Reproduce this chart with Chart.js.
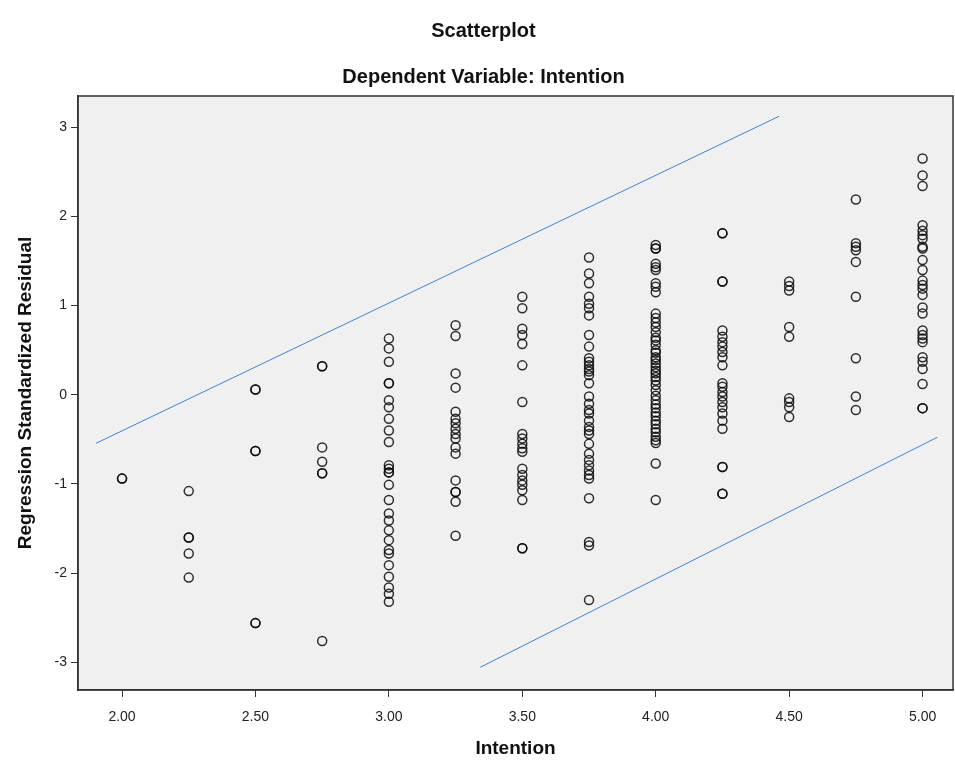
<!DOCTYPE html>
<html lang="en">
<head>
    <meta charset="UTF-8">
    <title>Scatterplot</title>
    <script src="https://cdn.jsdelivr.net/npm/chart.js"></script>
    <style>
        body {
            margin: 0;
            background-color: #ffffff;
        }
        .chart-container {
            width: 955px;
            height: 760px;
        }
    </style>
</head>
<body>
    <div class="chart-container">
        <canvas id="residChart"></canvas>
    </div>

    <script>
        // Intention levels (x) and the standardized residuals seen at each level
        const intentionLevels = [2.00, 2.25, 2.50, 2.75, 3.00, 3.25, 3.50, 3.75, 4.00, 4.25, 4.50, 4.75, 5.00];

        const res200 = [-0.94, -0.94];
        const res225 = [-1.08, -1.60, -1.60, -1.78, -2.05];
        const res250 = [0.06, 0.06, -0.63, -0.63, -2.56, -2.56];
        const res275 = [0.32, 0.32, -0.59, -0.75, -0.88, -0.88, -2.76];
        const res300 = [0.63, 0.52, 0.37, 0.13, 0.13, -0.06, -0.14, -0.27, -0.40, -0.53, -0.79, -0.83, -0.87, -0.87,
            -1.01, -1.18, -1.33, -1.41, -1.52, -1.63, -1.74, -1.78, -1.91, -2.04, -2.16, -2.23, -2.32];
        const res325 = [0.78, 0.66, 0.24, 0.08, -0.19, -0.27, -0.32, -0.38, -0.44, -0.49, -0.59, -0.66,
            -0.96, -1.09, -1.09, -1.20, -1.58];
        const res350 = [1.10, 0.97, 0.74, 0.67, 0.57, 0.33, -0.08, -0.44, -0.49, -0.55, -0.60, -0.64,
            -0.83, -0.90, -0.96, -1.01, -1.07, -1.18, -1.72, -1.72];
        const res375 = [1.54, 1.36, 1.25, 1.10, 1.02, 0.97, 0.89, 0.67, 0.54, 0.41, 0.37, 0.33, 0.29, 0.26, 0.22,
            0.13, -0.02, -0.10, -0.17, -0.21, -0.29, -0.36, -0.40, -0.44, -0.55, -0.66, -0.73, -0.79, -0.85,
            -0.90, -0.94, -1.16, -1.65, -1.69, -2.30];
        const res400 = [1.68, 1.64, 1.64, 1.47, 1.43, 1.40, 1.25, 1.21, 1.15, 0.91, 0.86, 0.81, 0.76, 0.70, 0.64,
            0.61, 0.56, 0.50, 0.47, 0.42, 0.39, 0.35, 0.31, 0.27, 0.24, 0.20, 0.16, 0.11, 0.05, -0.01, -0.06,
            -0.11, -0.15, -0.20, -0.24, -0.29, -0.33, -0.38, -0.42, -0.47, -0.51, -0.54, -0.77, -1.18];
        const res425 = [1.81, 1.81, 1.27, 1.27, 0.72, 0.65, 0.59, 0.54, 0.48, 0.42, 0.33, 0.13, 0.09, 0.03,
            -0.02, -0.08, -0.14, -0.21, -0.29, -0.38, -0.81, -0.81, -1.11, -1.11];
        const res450 = [1.27, 1.22, 1.17, 0.76, 0.65, -0.04, -0.08, -0.14, -0.25];
        const res475 = [2.19, 1.70, 1.66, 1.62, 1.49, 1.10, 0.41, -0.02, -0.17];
        const res500 = [2.65, 2.46, 2.34, 1.90, 1.84, 1.79, 1.75, 1.66, 1.64, 1.51, 1.40, 1.28, 1.23, 1.19, 1.12,
            0.98, 0.91, 0.72, 0.67, 0.63, 0.59, 0.42, 0.37, 0.29, 0.12, -0.15, -0.15];

        const residualsByLevel = [res200, res225, res250, res275, res300, res325, res350,
            res375, res400, res425, res450, res475, res500];

        // Two reference lines (end points in data units)
        const upperLineX = [1.9025, 4.4625];
        const upperLineY = [-0.544, 3.123];
        const lowerLineX = [3.342, 5.055];
        const lowerLineY = [-3.056, -0.477];

        // Tick labels
        const xTicks = [2.00, 2.50, 3.00, 3.50, 4.00, 4.50, 5.00];
        const yTicks = [-3, -2, -1, 0, 1, 2, 3];

        const points = [];
        intentionLevels.forEach((lvl, i) => {
            residualsByLevel[i].forEach(r => points.push({ x: lvl, y: r }));
        });

        // Grey plot background + full frame
        const plotFrame = {
            id: 'plotFrame',
            beforeDraw(chart) {
                const { ctx, chartArea: a } = chart;
                ctx.save();
                ctx.fillStyle = '#f0f0f0';
                ctx.fillRect(a.left, a.top, a.right - a.left, a.bottom - a.top);
                ctx.restore();
            },
            afterDraw(chart) {
                const { ctx, chartArea: a } = chart;
                ctx.save();
                ctx.strokeStyle = '#333333';
                ctx.lineWidth = 1.5;
                ctx.strokeRect(a.left, a.top, a.right - a.left, a.bottom - a.top);
                ctx.restore();
            }
        };

        const tickFont = { family: '"Liberation Sans Narrow", "Liberation Sans", Arial, sans-serif', size: 14 };
        const boldFont = { family: '"Liberation Sans", Arial, sans-serif', size: 20, weight: 'bold' };

        new Chart(document.getElementById('residChart').getContext('2d'), {
            type: 'scatter',
            data: {
                datasets: [
                    {
                        label: 'Residuals',
                        data: points,
                        pointStyle: 'circle',
                        pointRadius: 4.5,
                        pointBackgroundColor: 'rgba(0,0,0,0)',
                        pointBorderColor: 'rgba(10,10,10,0.85)',
                        pointBorderWidth: 1.5,
                        order: 1
                    },
                    {
                        label: 'Upper',
                        data: upperLineX.map((x, i) => ({ x: x, y: upperLineY[i] })),
                        showLine: true,
                        borderColor: '#3b86d6',
                        borderWidth: 1,
                        pointRadius: 0,
                        order: 0
                    },
                    {
                        label: 'Lower',
                        data: lowerLineX.map((x, i) => ({ x: x, y: lowerLineY[i] })),
                        showLine: true,
                        borderColor: '#3b86d6',
                        borderWidth: 1,
                        pointRadius: 0,
                        order: 0
                    }
                ]
            },
            options: {
                responsive: true,
                maintainAspectRatio: false,
                animation: false,
                layout: { autoPadding: false, padding: { left: 14, right: 2, top: 0, bottom: 0 } },
                plugins: {
                    legend: { display: false },
                    tooltip: { enabled: false },
                    title: {
                        display: true,
                        text: 'Scatterplot',
                        color: '#111111',
                        font: boldFont,
                        padding: { top: 19, bottom: 10 }
                    },
                    subtitle: {
                        display: true,
                        text: 'Dependent Variable: Intention',
                        color: '#111111',
                        font: boldFont,
                        padding: { top: 12, bottom: 7 }
                    }
                },
                scales: {
                    x: {
                        type: 'linear',
                        min: 1.835,
                        max: 5.114,
                        afterBuildTicks: scale => { scale.ticks = xTicks.map(v => ({ value: v })); },
                        afterFit: scale => {
                            scale.height = 70;
                            scale.paddingLeft = 0;
                            scale.paddingRight = 0;
                        },
                        ticks: {
                            color: '#222222',
                            font: tickFont,
                            padding: 12,
                            maxRotation: 0,
                            callback: v => Number(v).toFixed(2)
                        },
                        grid: {
                            drawOnChartArea: false,
                            drawTicks: true,
                            tickLength: 7,
                            color: '#333333'
                        },
                        border: { display: true, color: '#333333', width: 1.5 },
                        title: {
                            display: true,
                            text: 'Intention',
                            color: '#111111',
                            font: { family: '"Liberation Sans", Arial, sans-serif', size: 19, weight: 'bold' },
                            padding: { top: 12, bottom: 0 }
                        }
                    },
                    y: {
                        type: 'linear',
                        min: -3.31,
                        max: 3.35,
                        afterBuildTicks: scale => { scale.ticks = yTicks.map(v => ({ value: v })); },
                        afterFit: scale => { scale.width = 64; },
                        ticks: {
                            color: '#222222',
                            font: tickFont,
                            padding: 4
                        },
                        grid: {
                            drawOnChartArea: false,
                            drawTicks: true,
                            tickLength: 7,
                            color: '#333333'
                        },
                        border: { display: true, color: '#333333', width: 1.5 },
                        title: {
                            display: true,
                            text: 'Regression Standardized Residual',
                            color: '#111111',
                            font: { family: '"Liberation Sans", Arial, sans-serif', size: 19, weight: 'bold' },
                            padding: { top: 0, bottom: 8 }
                        }
                    }
                }
            },
            plugins: [plotFrame]
        });
    </script>
</body>
</html>
